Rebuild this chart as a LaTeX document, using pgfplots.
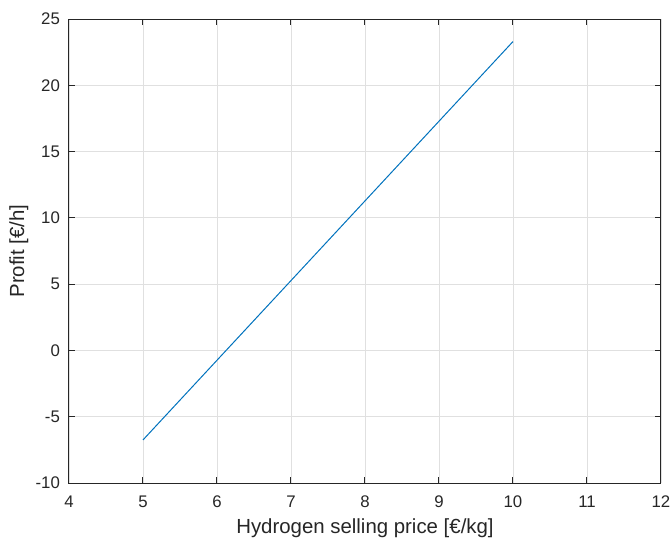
\documentclass[border=0pt]{standalone}
\usepackage{fontspec}
\setmainfont{Liberation Sans}
\usepackage{pgfplots}
\pgfplotsset{compat=1.18}
\definecolor{mblue}{rgb}{0,0.447,0.741}
\definecolor{maxis}{rgb}{0.15,0.15,0.15}
\begin{document}
\begin{tikzpicture}
\path[use as bounding box] (-34.5pt,-27.5pt) rectangle (300.5pt,241.5pt);
\begin{axis}[
  scale only axis,
  width=296pt, height=232pt,
  xmin=4, xmax=12, ymin=-10, ymax=25,
  xtick={4,5,...,12}, ytick={-10,-5,0,5,10,15,20,25},
  tick align=inside,
  major tick length=3pt,
  grid=major,
  grid style={draw=black!12, line width=0.4pt},
  axis line style={draw=maxis, line width=0.5pt},
  every tick/.style={draw=maxis, line width=0.5pt},
  tick label style={font=\fontsize{8.4}{9}\selectfont, color=maxis},
  xticklabel style={anchor=base, yshift=-12pt},
  yticklabel style={xshift=-1pt},
  label style={font=\fontsize{10.2}{11}\selectfont, color=maxis},
  /pgf/number format/assume math mode=true,
  xlabel={Hydrogen selling price [€/kg]},
  ylabel={Profit [€/h]},
  xlabel style={at={(axis description cs:0.5,0)}, anchor=base, yshift=-25pt},
  ylabel style={at={(axis description cs:0,0.5)}, anchor=base, yshift=22.4pt},
]
\addplot[mblue, line width=0.5pt] coordinates {
(5,-6.75) (6,-0.74) (7,5.27) (8,11.28) (9,17.29) (10,23.3)
};
\end{axis}
\end{tikzpicture}
\end{document}
